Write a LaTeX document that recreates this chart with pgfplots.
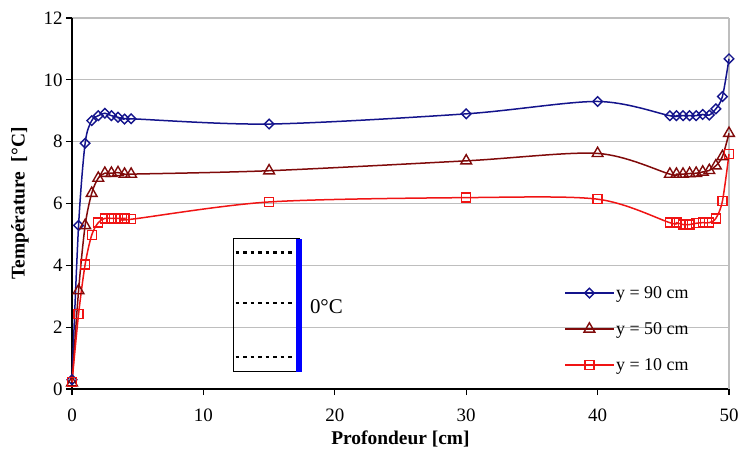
\documentclass[border=0pt]{standalone}
\usepackage{fontspec}
\setmainfont{Liberation Serif}
\usepackage{pgfplots}
\pgfplotsset{compat=1.18}
\definecolor{cblue}{RGB}{20,20,140}
\definecolor{cdred}{RGB}{128,10,10}
\definecolor{cred}{RGB}{240,20,20}
\definecolor{cgrid}{RGB}{190,190,190}
\begin{document}
\begin{tikzpicture}
\begin{axis}[
  scale only axis, width=657bp, height=371bp,
  xmin=0, xmax=50, ymin=0, ymax=12,
  xtick={0,10,20,30,40,50}, ytick={0,2,4,6,8,10,12},
  axis x line*=bottom, axis y line*=left,
  axis line style={black, line width=1.4bp},
  tick align=outside, major tick length=6bp,
  tick style={black, line width=1.3bp},
  ymajorgrids, grid style={cgrid, line width=1.3bp},
  ticklabel style={font=\fontsize{19}{21}\selectfont},
  x tick label style={yshift=-10bp},
  /pgf/number format/assume math mode=true,
  xlabel={Profondeur [cm]}, ylabel={Température\ \ [°C]},
  label style={font=\fontsize{19.5}{22}\selectfont\bfseries},
  xlabel style={yshift=-3bp},
  ylabel style={yshift=8bp},
  clip=false,
  legend style={draw=none, fill=none, at={(axis description cs:0.745,0.288)}, anchor=north west,
    font=\fontsize{18}{20}\selectfont, row sep=18.5bp},
  legend cell align=left,
  legend image code/.code={\draw[mark repeat=2,mark phase=2,#1] plot coordinates {(0bp,0bp) (24bp,0bp) (48bp,0bp)};},
]
\draw[cgrid, line width=1.3bp] (axis cs:50,0) -- (axis cs:50,12);
\addplot[cblue, line width=1.5bp, smooth, mark=square, mark size=3.4bp, mark options={fill=white, solid, line width=1.4bp, rotate=45}] coordinates {
(0,0.3) (0.5,5.29) (1,7.95) (1.5,8.68) (2,8.84) (2.5,8.92) (3,8.84) (3.5,8.79) (4,8.73) (4.5,8.74)
(15,8.57) (30,8.90) (40,9.30)
(45.5,8.84) (46,8.84) (46.5,8.84) (47,8.84) (47.5,8.84) (48,8.88) (48.5,8.86) (49,9.06) (49.5,9.46) (50,10.68)};
\addlegendentry{y = 90 cm}
\addplot[cdred, line width=1.5bp, smooth, mark=triangle, mark size=6.2bp, mark options={fill=white, solid, line width=1.4bp}] coordinates {
(0,0.2) (0.5,3.18) (1,5.29) (1.5,6.33) (2,6.82) (2.5,6.98) (3,6.98) (3.5,7.0) (4,6.95) (4.5,6.95)
(15,7.06) (30,7.38) (40,7.62)
(45.5,6.95) (46,6.95) (46.5,6.95) (47,6.97) (47.5,6.98) (48,7.02) (48.5,7.07) (49,7.22) (49.5,7.52) (50,8.27)};
\addlegendentry{y = 50 cm}
\addplot[cred, line width=1.5bp, smooth, mark=square, mark size=4.5bp, mark options={fill=white, solid, line width=1.4bp}] coordinates {
(0,0.22) (0.5,2.42) (1,4.03) (1.5,4.98) (2,5.38) (2.5,5.52) (3,5.52) (3.5,5.52) (4,5.52) (4.5,5.49)
(15,6.05) (30,6.19) (40,6.14)
(45.5,5.38) (46,5.38) (46.5,5.32) (47,5.32) (47.5,5.36) (48,5.38) (48.5,5.38) (49,5.52) (49.5,6.08) (50,7.6)};
\addlegendentry{y = 10 cm}
% inset sketch
\draw[black, line width=1.3bp] (axis cs:12.28,0.56) rectangle (axis cs:17.3,4.86);
\fill[blue] (axis cs:17.06,0.56) rectangle (axis cs:17.5,4.86);
\draw[black, line width=2.5bp, dash pattern=on 3.5bp off 4bp] (axis cs:12.45,4.41) -- (axis cs:16.95,4.41);
\draw[black, line width=2.5bp, dash pattern=on 3.5bp off 4bp] (axis cs:12.45,2.78) -- (axis cs:16.95,2.78);
\draw[black, line width=2.5bp, dash pattern=on 3.5bp off 4bp] (axis cs:12.45,1.03) -- (axis cs:16.95,1.03);
\node[anchor=west, font=\fontsize{21}{24}\selectfont, inner sep=0pt] at (axis cs:18.1,2.66) {0°C};
\end{axis}
\pgfresetboundingbox
\path (-72bp,-63bp) rectangle (669bp,389bp);
\end{tikzpicture}
\end{document}
